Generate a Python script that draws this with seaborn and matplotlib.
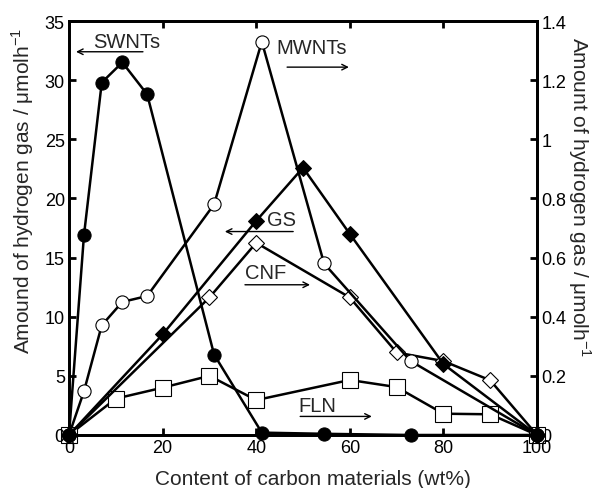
import matplotlib
matplotlib.use("Agg")
import matplotlib.pyplot as plt
import seaborn as sns
from matplotlib.ticker import FormatStrFormatter

# data (wt% of carbon material)
swnt_x = [0, 3.2, 7.0, 11.4, 16.7, 31.0, 41.2, 54.5, 73.0, 100]
swnt_y = [0, 16.9, 29.8, 31.5, 28.8, 6.8, 0.2, 0.1, 0.0, 0]      # left axis

mwnt_x = [0, 3.2, 7.0, 11.4, 16.7, 31.0, 41.2, 54.5, 73.0, 100]
mwnt_y = [0, 0.148, 0.371, 0.45, 0.47, 0.78, 1.33, 0.58, 0.25, 0]  # right axis

gs_x = [0, 20, 40, 50, 60, 80, 100]
gs_y = [0, 8.5, 18.1, 22.6, 17.0, 6.0, 0]                         # left axis

cnf_x = [0, 30, 40, 60, 70, 80, 90, 100]
cnf_y = [0, 0.465, 0.65, 0.465, 0.279, 0.25, 0.185, 0]            # right axis

fln_x = [0, 10, 20, 30, 40, 60, 70, 80, 90, 100]
fln_y = [0, 0.123, 0.16, 0.20, 0.118, 0.186, 0.162, 0.072, 0.07, 0]  # right axis

sns.set_style("ticks")
plt.rcParams['font.family'] = ['Liberation Sans', 'DejaVu Sans']
plt.rcParams['mathtext.fontset'] = 'custom'
plt.rcParams['mathtext.rm'] = 'Liberation Sans'

fig = plt.figure(figsize=(5.99, 4.89), dpi=100)
ax1 = fig.add_axes([0.1152, 0.1084, 0.7813, 0.8466])
ax2 = ax1.twinx()
# left-axis series sit on top
ax1.set_zorder(ax2.get_zorder() + 1)
ax1.patch.set_visible(False)

lw = 1.8
# right axis series
sns.lineplot(x=fln_x, y=fln_y, ax=ax2, sort=False, color='black', lw=lw,
             marker='s', markersize=11, markerfacecolor='white',
             markeredgecolor='black', markeredgewidth=0.8, clip_on=False)
sns.lineplot(x=cnf_x, y=cnf_y, ax=ax2, sort=False, color='black', lw=lw,
             marker='D', markersize=8, markerfacecolor='white',
             markeredgecolor='black', markeredgewidth=0.8, clip_on=False)
sns.lineplot(x=mwnt_x, y=mwnt_y, ax=ax2, sort=False, color='black', lw=lw,
             marker='o', markersize=9.5, markerfacecolor='white',
             markeredgecolor='black', markeredgewidth=0.8, clip_on=False)
# left axis series
sns.lineplot(x=gs_x, y=gs_y, ax=ax1, sort=False, color='black', lw=lw,
             marker='D', markersize=8, markerfacecolor='black',
             markeredgecolor='black', clip_on=False)
sns.lineplot(x=swnt_x, y=swnt_y, ax=ax1, sort=False, color='black', lw=lw,
             marker='o', markersize=9.5, markerfacecolor='black',
             markeredgecolor='black', clip_on=False)

ax1.set_xlim(0, 100)
ax1.set_ylim(0, 35)
ax2.set_ylim(0, 1.4)
ax1.set_xticks(range(0, 101, 20))
ax1.set_yticks(range(0, 36, 5))
ax2.set_yticks([0, 0.2, 0.4, 0.6, 0.8, 1.0, 1.2, 1.4])
ax2.yaxis.set_major_formatter(FormatStrFormatter('%g'))

for ax in (ax1, ax2):
    for s in ax.spines.values():
        s.set_linewidth(2)
        s.set_color('black')
    ax.tick_params(direction='in', length=5, width=2, labelsize=13,
                   colors='black', pad=3)
ax1.tick_params(axis='x', top=True)
ax1.tick_params(axis='y', right=False)

ax1.set_xlabel('Content of carbon materials (wt%)', fontsize=15, labelpad=9)
ax1.set_ylabel('Amound of hydrogen gas / μmolh$^{-1}$', fontsize=15, labelpad=6)
ax2.set_ylabel('Amount of hydrogen gas / μmolh$^{-1}$', fontsize=15,
               rotation=270, labelpad=19)
ax1.xaxis.label.set_x(0.521)
ax1.yaxis.label.set_y(0.592)
ax2.yaxis.label.set_y(0.577)

# labels with arrows pointing to the axis each series belongs to
arrow = dict(arrowstyle='->', lw=1, color='black', shrinkA=0, shrinkB=0)
fs = 14.5
ax1.text(12.4, 33.3, 'SWNTs', fontsize=fs, ha='center', va='center')
ax1.annotate('', xy=(1.5, 32.4), xytext=(15.8, 32.4), arrowprops=arrow)
ax1.text(51.9, 32.8, 'MWNTs', fontsize=fs, ha='center', va='center')
ax1.annotate('', xy=(59.8, 31.1), xytext=(46.6, 31.1), arrowprops=arrow)
ax1.text(45.3, 18.2, 'GS', fontsize=fs, ha='center', va='center')
ax1.annotate('', xy=(33.3, 17.2), xytext=(47.9, 17.2), arrowprops=arrow)
ax1.text(42.1, 13.7, 'CNF', fontsize=fs, ha='center', va='center')
ax1.annotate('', xy=(51.5, 12.7), xytext=(37.6, 12.7), arrowprops=arrow)
ax1.text(53.0, 2.5, 'FLN', fontsize=fs, ha='center', va='center')
ax1.annotate('', xy=(64.7, 1.57), xytext=(49.4, 1.57), arrowprops=arrow)

fig.savefig('out.png', dpi=100)
